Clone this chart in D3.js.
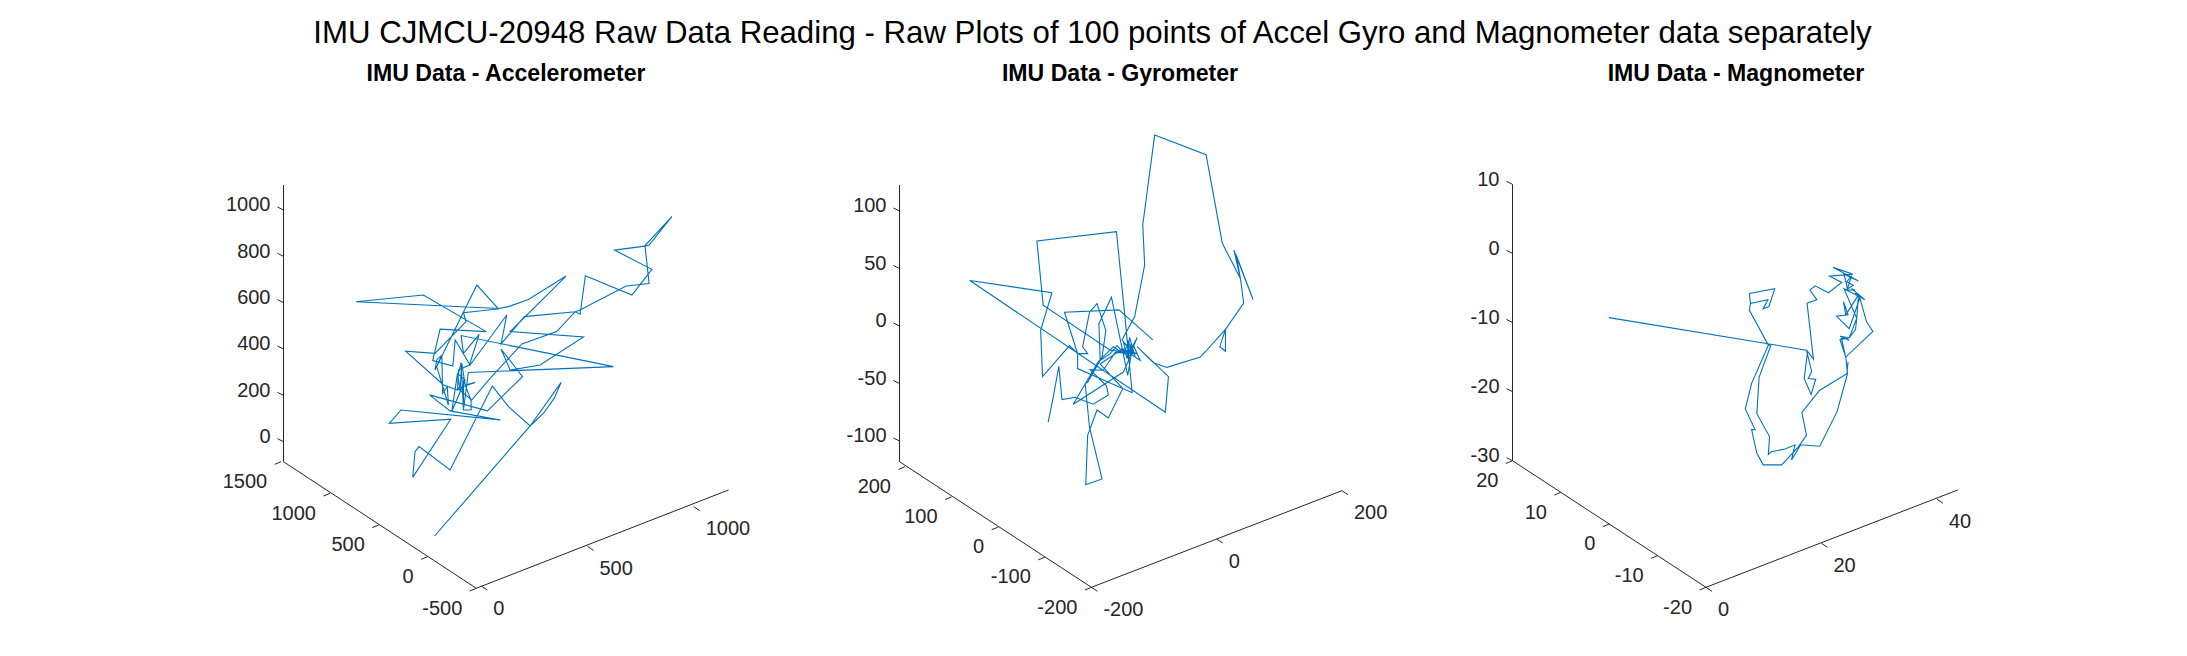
<!DOCTYPE html>
<html>
<head>
<meta charset="utf-8">
<script src="https://cdn.jsdelivr.net/npm/d3@7"></script>
<style>
html,body{margin:0;padding:0;background:#fff;}
svg{display:block;}
text{font-family:"Liberation Sans",Arial,sans-serif;}
</style>
</head>
<body>
<script>
// Values: x against the x-axis ticks (horizontally), z against the z-axis ticks (vertically)
const mainTitle = "IMU CJMCU-20948 Raw Data Reading - Raw Plots of 100 points of Accel Gyro and Magnometer data separately";
const panelTitles = ["IMU Data - Accelerometer","IMU Data - Gyrometer","IMU Data - Magnometer"];

const accelX = [-220,230,376,343,293,230,128,52,-147,-293,-312,-323,-144,-433,-378,90,-147,-244,29,194,93,136,277,481,136,399,222,128,81,-590,-273,23,-194,-229,-134,-123,-53,120,93,203,442,465,490,709,803,627,768,897,790,771,790,682,465,442,355,191,34,-45,-112,-29,-76,-92,-100,-112,-139,-76,-108,-95,-84,-84,-48,-48,-84,-61,622,-95,-84,-10,-56,-108,-112,-178,-356,-218,-72,-84,81,-21,-218,-210,-186,-210,-155,-160,-182,-186];
const accelZ = [-407,68,256,187,123,68,151,240,-122,-21,-43,-154,97,79,137,94,133,202,133,281,400,309,331,452,475,715,614,583,575,604,633,475,486,350,327,439,331,547,422,540,561,550,716,633,744,827,844,971,849,844,683,672,568,561,475,422,266,180,230,256,245,338,223,295,130,266,292,341,137,266,177,137,137,299,324,458,381,463,331,309,223,245,391,381,518,557,573,676,309,353,374,324,158,238,209,374];

const gyroX = [-269,-261,-252,-247,-226,-197,-173,-176,-202,-181,-162,-134,-143,-130,-139,-144,-127,-141,-149,-135,-159,-127,-154,-159,-170,-186,-188,-168,-142,-135,-149,-165,-189,-229,-149,-139,-154,-133,-122,-141,-170,-277,-287,-160,-147,-135,-222,-222,-235,-278,-281,-263,-394,-82,-77,-127,-101,-79.5,-26,14,5,14,14,43,38,31,58,27.5,38,9,-17,-99,-118,-115,-131,-151,-135,-159,-186,-150,-173,-191,-206,-209,-183,-203,-210,-206,-183,-177,-191,-203,-214,-206,-222,-243,-156,-102];
const gyroZ = [-83.5,-62,-35,-64,-62,-68,-60,-52,-38,-38.5,-23,-20,-12,-27,-10,-28,-10,-29,-14,-21,-23,-24,-20,-17,-24,-30,2,25,-43,-20,-24,-18,-31,-68,-40,-28,-21,-17,-30,-23,-21,18,74,82,11,-58,-37,-24,-17,-44,-3.7,29,39.5,-75,-44,-18,-32,-36,-27,-3,-18,-22,-3,20,41,62,23,66,41,72,149,166,88,53,8,-12,-24,-23,-33,-54.5,-80,-73,-95,-138,-133,-88,-50,-49,-27,-4,19.5,12,-18,-24,-24,12,14,-12];

const magX = [-16.8,17.4,18.3,17.7,19,18.2,17,17.6,18.6,17.5,19.2,18,18.9,21.2,23.5,21.4,25.4,22,26.4,23.9,24.5,25.2,24.4,25.5,24.2,25.8,25.2,27.5,25.8,26.5,27.8,28.9,24.2,23.5,24.8,25.9,26.1,23.9,26.7,24.8,22.6,24.6,23.8,24.2,26.4,26.1,24.8,23.2,24.8,23.8,23.2,24.2,24.5,22.7,19.7,16.4,14.8,15.4,13.7,11.3,10.8,11,8.8,9.2,11.2,10.7,7.5,7.7,10.7,9.9,10.9,11.9,7.5,7.7,7.5,10.8,7.9,6.8,8.5,7.9,8.8,9.9,13.1,16,17.4,16.6,19.7,24.4,24.6];
const magZ = [-9.3,-14,-17.1,-18.1,-18.2,-20.4,-18.1,-14.2,-15.3,-7.2,-6.7,-5.3,-4.7,-5.7,-4.2,-3.3,-3,-2,-4,-3,-5.1,-3.2,-4.1,-4.6,-5.3,-5.3,-5.1,-6.7,-5.8,-6,-9.9,-11.3,-15,-12.45,-12.2,-11,-9.4,-5.1,-6.3,-10.9,-9.1,-8.9,-7,-8.9,-6,-9.4,-12.2,-12,-12.55,-12.2,-12.45,-15,-17.4,-22.9,-27.9,-27.7,-29.9,-27.7,-28.3,-28.7,-29.1,-26.5,-23.2,-17.9,-13.4,-13.1,-8.2,-7.25,-6.7,-8,-7.7,-5.1,-5.8,-7.25,-8.2,-13.3,-18.8,-22.5,-25.5,-25.5,-28.9,-30.6,-30.6,-28,-26.3,-23,-19.8,-17.4,-15.7];

const accelXTicks = [0,500,1000], accelYTicks = [-500,0,500,1000,1500], accelZTicks = [0,200,400,600,800,1000];
const gyroXTicks = [-200,0,200], gyroYTicks = [-200,-100,0,100,200], gyroZTicks = [-100,-50,0,50,100];
const magXTicks = [0,20,40], magYTicks = [-20,-10,0,10,20], magZTicks = [-30,-20,-10,0,10];

// Layout of the three projected boxes (pixels)
const layouts = [
 {titleX:506, vertX:283.5, top:185, bottom:461.7, corner:[476.3,588.3], end:[728.5,490],
  xDom:[0,1000], xPx:[481.3,693.7], xPy:[586,506.7],
  yDom:[-500,1000], yPx:[476.3,330], yPy:[588.3,493.3],
  zDom:[0,1000], zPy:[441.7,210]},
 {titleX:1120, vertX:899.5, top:185, bottom:461.7, corner:[1091.4,587.3], end:[1342,490.7],
  xDom:[-200,200], xPx:[1091.4,1342], xPy:[587.3,490.7],
  yDom:[-200,200], yPx:[1091.4,905], yPy:[587.3,466.7],
  zDom:[-100,100], zPy:[441,211]},
 {titleX:1736, vertX:1512.5, top:184.3, bottom:460.7, corner:[1706,587.3], end:[1957.7,490],
  xDom:[0,40], xPx:[1706,1937], xPy:[587.3,499.3],
  yDom:[-20,20], yPx:[1706,1512.5], yPy:[587.3,460.7],
  zDom:[-30,10], zPy:[460.7,184.3]}
];

const series = [
 {xs:accelX, zs:accelZ, xt:accelXTicks, yt:accelYTicks, zt:accelZTicks},
 {xs:gyroX, zs:gyroZ, xt:gyroXTicks, yt:gyroYTicks, zt:gyroZTicks},
 {xs:magX, zs:magZ, xt:magXTicks, yt:magYTicks, zt:magZTicks}
];

const axisColor = "#262626", traceColor = "#0072BD";
const svg = d3.select("body").append("svg").attr("width",2187).attr("height",656);
svg.append("rect").attr("width",2187).attr("height",656).attr("fill","#fff");

svg.append("text").attr("x",1092.5).attr("y",43).attr("text-anchor","middle")
  .attr("font-size",31.2).attr("fill","#000").text(mainTitle);

series.forEach((s,i)=>{
  const L = layouts[i];
  const g = svg.append("g");
  g.append("text").attr("x",L.titleX).attr("y",80.5).attr("text-anchor","middle")
    .attr("font-size",23.1).attr("font-weight","bold").attr("fill","#000").text(panelTitles[i]);

  const xX = d3.scaleLinear().domain(L.xDom).range(L.xPx);
  const xY = d3.scaleLinear().domain(L.xDom).range(L.xPy);
  const yX = d3.scaleLinear().domain(L.yDom).range(L.yPx);
  const yY = d3.scaleLinear().domain(L.yDom).range(L.yPy);
  const zY = d3.scaleLinear().domain(L.zDom).range(L.zPy);

  const seg = (x1,y1,x2,y2,c=axisColor)=>g.append("line").attr("x1",x1).attr("y1",y1).attr("x2",x2).attr("y2",y2)
      .attr("stroke",c).attr("stroke-width",1);
  const label = (x,y,t,a)=>g.append("text").attr("x",x).attr("y",y).attr("dy","0.36em").attr("text-anchor",a)
      .attr("font-size",20).attr("fill",axisColor).text(t);

  // box edges
  seg(L.vertX,L.top,L.vertX,L.bottom);
  seg(L.vertX,L.bottom,L.corner[0],L.corner[1]);
  seg(L.corner[0],L.corner[1],L.end[0],L.end[1]);

  s.zt.forEach(t=>{
    seg(L.vertX,zY(t),L.vertX-6,zY(t)-3);
    label(L.vertX-13,zY(t)-6,String(t),"end");
  });
  s.xt.forEach(t=>{
    seg(xX(t),xY(t),xX(t)+6,xY(t)+4);
    label(xX(t)+12,xY(t)+21.5,String(t),"start");
  });
  s.yt.forEach(t=>{
    seg(yX(t),yY(t),yX(t)-6.5,yY(t)+2.7);
    label(yX(t)-14,yY(t)+19,String(t),"end");
  });

  const line = d3.line().x(d=>xX(d[0])).y(d=>zY(d[1]));
  g.append("path").datum(d3.zip(s.xs,s.zs)).attr("d",line).attr("fill","none")
    .attr("stroke",traceColor).attr("stroke-width",1.1).attr("stroke-linejoin","miter");
});
</script>
</body>
</html>
